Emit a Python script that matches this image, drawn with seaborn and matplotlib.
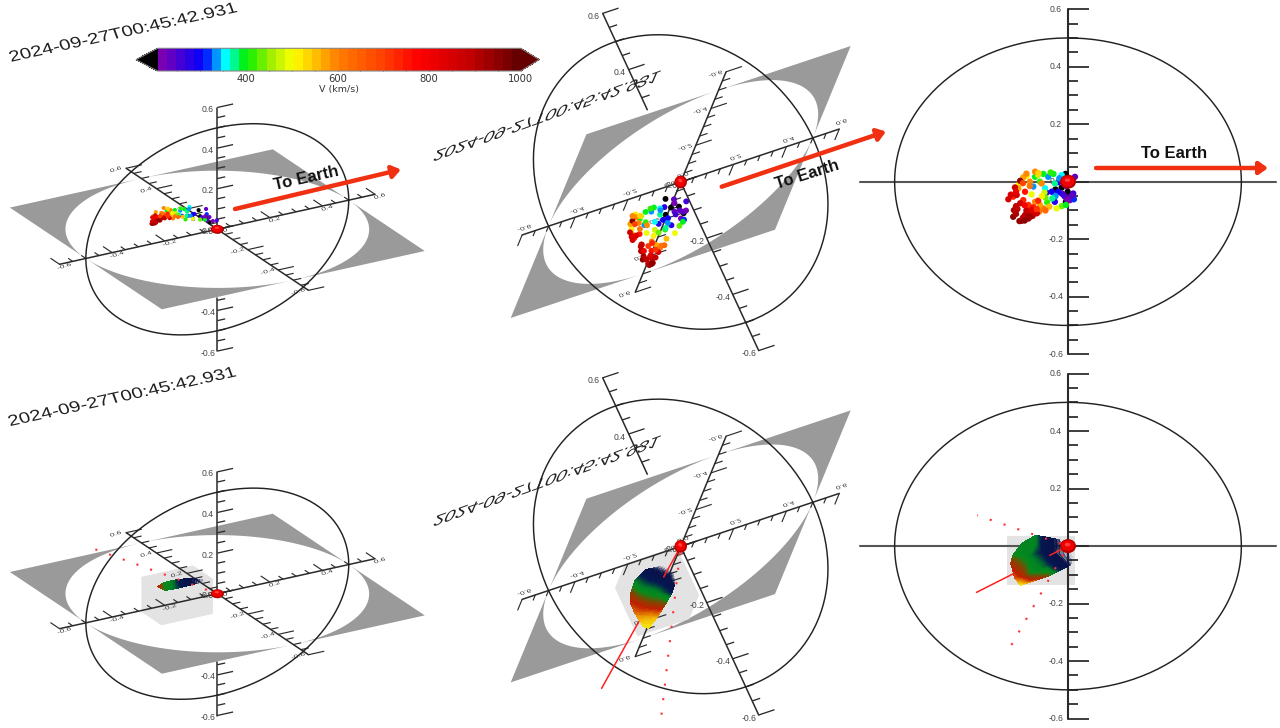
import numpy as np
import matplotlib.pyplot as plt
import matplotlib.patheffects as pe
import seaborn as sns
from matplotlib.cm import ScalarMappable
from matplotlib.colors import LinearSegmentedColormap, Normalize
from matplotlib.patches import Ellipse
from matplotlib.ticker import FixedLocator
from matplotlib.transforms import Affine2D

# Speed colour scale
speed_stops = [207, 300, 350, 395, 450, 500, 600, 700, 780, 900, 1000]
speed_colors = ['#7a00b4', '#0000ff', '#00ffff', '#00f000', '#a0f000', '#ffff00',
                '#ff8000', '#ff4000', '#ff0000', '#c00000', '#660000']
cbar_ticks = [400, 600, 800, 1000]

# Point cloud read from the side and underside views
cloud_x = [-.007, -.036, -.001, -.006, -.018, -.018, -.009, .006, .015, .020, -.013, -.002, -.028,
           -.062, -.047, -.028, .017, -.038, -.100, -.057, -.018, -.036, -.066,
           -.042, -.071, -.095, -.060, -.018, -.006, -.038, -.081,
           -.105, -.119, -.143, -.033, -.068, -.086,
           -.095, -.129, -.143, -.095, -.071, -.081, -.054, -.083, -.110, -.076,
           -.158, -.124, -.129, -.114, -.100, -.086,
           -.172, -.148, -.138, -.105, -.114, -.090,
           -.156, -.146, -.158, -.140, -.134, -.114, -.102, -.138, -.153, -.124, -.110, -.120, -.130,
           -.085, -.120, -.050, -.025, -.065, -.045, -.005, .010, -.150, -.165,
           -.125, -.105, -.090, -.065, -.150, -.125, -.150, -.075, -.110, -.130]
cloud_y = [.13, .12, .08, .06, .10, .09, .07, .06, .05, .13, .10, .10, .12,
           .14, .13, .13, .12, .11, .16, .16, .17, .13, .15,
           .16, .17, .18, .12, .10, .09, .15, .18,
           .16, .15, .17, .12, .17, .18,
           .20, .19, .18, .17, .17, .18, .15, .16, .17, .19,
           .15, .17, .18, .17, .19, .19,
           .14, .15, .16, .20, .18, .17,
           .15, .16, .16, .17, .18, .19, .18, .15, .17, .17, .20, .21, .19,
           .19, .17, .17, .16, .16, .14, .09, .09, .17, .15,
           .19, .20, .18, .16, .16, .18, .15, .18, .18, .16]
cloud_z = [.027, -.027, -.035, -.070, -.020, -.041, -.052, -.064, -.041, .017, -.046, -.064, -.002,
           -.038, -.035, -.035, -.061, -.070, -.017, .017, .023, -.050, -.023,
           .027, .027, .017, -.072, -.085, -.081, -.006, .000,
           -.044, .020, -.012, -.093, -.038, .023,
           .035, .015, -.023, -.070, -.093, -.081, -.087, -.104, .000, -.006,
           -.052, -.035, -.064, -.081, -.089, -.066,
           -.061, -.046, -.075, -.110, -.108, -.110,
           -.099, -.095, -.122, -.137, -.136, -.128, -.119, .003, -.020, -.116, -.122, -.100, -.125,
           .030, .028, .032, .012, -.055, -.058, -.015, -.050, -.035, -.045,
           -.082, -.098, -.095, -.100, -.112, -.135, -.085, -.050, -.015, -.005]
cloud_speed = [190, 190, 190, 190, 190, 230, 240, 225, 250, 235, 260, 215, 270,
               280, 290, 300, 310, 285, 345, 345, 350, 340, 355,
               395, 405, 400, 410, 430, 390, 380, 425,
               490, 510, 520, 500, 480, 470,
               590, 580, 570, 600, 610, 580, 560, 620, 590, 600,
               730, 750, 740, 720, 750, 730,
               860, 850, 870, 840, 880, 850,
               920, 900, 950, 960, 940, 920, 900, 950, 880, 910, 930, 890, 900,
               540, 600, 420, 345, 440, 370, 210, 240, 820, 860,
               790, 830, 720, 640, 920, 950, 890, 520, 610, 700]

# Cone surface, screen offsets from Earth in each lower view, with colour level
cone_left_dx = [-59.7, -53.7, -45.3, -33.7, -22, -13, -18.7, -30.3, -42, -52, -56.3, -47, -37, -25.3]
cone_left_dy = [-7.3, -10.7, -13.3, -14.7, -15, -13.3, -10.7, -8.3, -5, -3.3, -5.3, -8.3, -11, -12.3]
cone_left_level = [.72, .5, .42, .2, .1, 0, .05, .2, .38, .5, .62, .45, .25, .12]

cone_mid_dx = [-40.7, -34, -19, -7.3, -27.3, -12.3, -5.7, -9, -13.3, -19, -25.7, -32.3, -37.3, -45.7,
               -50.7, -50, -45.7, -40.7, -24, -12.3, -47.3, -35.7, -20.7, -40.7, -27.3]
cone_mid_dy = [28.7, 23, 19.7, 25.3, 28.7, 32, 37, 47, 54.3, 63.7, 73.7, 82, 80.3, 67,
               55.3, 47, 33.7, 42, 47, 52, 55.3, 61, 63.7, 72, 72]
cone_mid_level = [.3, .15, 0, 0, .2, .15, .03, .3, .5, .75, .95, 1, 1, .82,
                  .72, .62, .4, .45, .45, .45, .7, .7, .72, .9, .92]

cone_right_dx = [-32.3, -22.3, -9, 4.3, 2.7, -9, -20.7, -35.7, -47.3, -53.3, -57.3, -54.7, -45.7,
                 -40.7, -34, -27, -20.7, -12.3, -22.3, -37.3, -45.7]
cone_right_dy = [-10.7, -9, -6.3, 10.3, 18.7, 22, 30.3, 35.3, 39.3, 32, 17, 8.7, -3,
                 10.3, -3, 5.3, 7, 7, 20.3, 27, 30.3]
cone_right_level = [.42, .2, .08, 0, .05, .25, .6, .72, 1, .78, .66, .5, .45,
                    .45, .45, .28, .18, .1, .38, .5, .68]
cone_stops = [0, .12, .3, .42, .5, .62, .72, .85, 1]
cone_colors = [(.04, .07, .30, 0), (.03, .07, .28, 1), (.02, .09, .32, 1), (0, .50, .15, 1), (.02, .55, .10, 1),
               (.55, .25, 0, 1), (.75, .12, 0, 1), (.90, .50, 0, 1), (.98, .90, .05, 1)]

# Cone bounding box and the three rays from Earth
box_x = [-.175, .02]
box_y = [.065, .195]
box_z = [-.137, .035]
ray_solid = [-.264, .40, -.161]
ray_dot_a = [-.262, .40, .107]
ray_dot_b = [-.175, .28, -.369]

major_ticks = [-.6, -.4, -.2, 0, .2, .4, .6]
tick_steps = np.arange(-12, 13) * .05
stamp = '2024-09-27T00:45:42.931'
earth_label = 'To Earth'
red = '#f03010'


class GlyphWarp(pe.AbstractPathEffect):
    # keeps the label as text but lays its glyphs into the tilted plane
    def __init__(self, a, b, c, d):
        super().__init__()
        self.m = np.array([[a, b, 0], [c, d, 0], [0, 0, 1.]])

    def draw_path(self, renderer, gc, tpath, affine, rgbFace=None):
        m = affine.get_matrix()
        e = tpath.get_extents()
        cx, cy = affine.transform([[(e.x0 + e.x1) / 2, (e.y0 + e.y1) / 2]])[0]
        s = np.hypot(m[0, 0], m[1, 0])
        t = (Affine2D().translate(-(e.x0 + e.x1) / 2, -(e.y0 + e.y1) / 2).scale(s)
             + Affine2D(self.m) + Affine2D().translate(cx, cy))
        renderer.draw_path(gc, tpath, t, rgbFace)


def project(view, x, y, z):
    x, y, z = np.asarray(x, float), np.asarray(y, float), np.asarray(z, float)
    px = view['o'][0] + view['x'][0] * x + view['y'][0] * y + view['z'][0] * z
    py = view['o'][1] + view['x'][1] * x + view['y'][1] * y + view['z'][1] * z
    return px, py


def label(txt):
    return '0.0' if abs(txt) < 1e-9 else f'{txt:.1f}'


def draw_plane(view):
    t = np.linspace(0, np.pi / 2, 60)
    for sx, sy in [(1, 1), (-1, 1), (-1, -1), (1, -1)]:
        xs = np.r_[.5 * sx, .5 * sx * np.cos(t)]
        ys = np.r_[.5 * sy, .5 * sy * np.sin(t)]
        px, py = project(view, xs, ys, 0 * xs)
        ax.fill(px, py, color='#9a9a9a', lw=0, zorder=1)


def draw_axes(view):
    lw, col = view['lw'], '#2a2a2a'
    a, b = view['hide_z']
    z_parts = [(-.6, a), (b, .6)]
    for lo, hi in z_parts:
        px, py = project(view, [0, 0], [0, 0], [lo, hi])
        sns.lineplot(x=px, y=py, sort=False, estimator=None, color=col, linewidth=lw, ax=ax, zorder=3)
    px, py = project(view, [-.6, .6], [0, 0], [0, 0])
    sns.lineplot(x=px, y=py, sort=False, estimator=None, color=view.get('xcol', col), linewidth=lw, ax=ax, zorder=3)
    if view['flat']:
        px, py = project(view, [0, 0], [-.6, .6], [0, 0])
        sns.lineplot(x=px, y=py, sort=False, estimator=None, color=col, linewidth=lw, ax=ax, zorder=3)
    for v in tick_steps:
        major = any(abs(v - m) < 1e-9 for m in major_ticks)
        n = .06 if major else .03
        if not (a < v < b):
            px, py = project(view, [0, n], [0, 0], [v, v])
            ax.plot(px, py, color=col, lw=lw * .85, zorder=3, solid_capstyle='butt')
        if view['flat']:
            px, py = project(view, [v, v], [0, n], [0, 0])
            ax.plot(px, py, color=col, lw=lw * .75, zorder=3, solid_capstyle='butt')
            px, py = project(view, [0, n], [v, v], [0, 0])
            ax.plot(px, py, color=col, lw=lw * .75, zorder=3, solid_capstyle='butt')
    for v in major_ticks:
        if not (a < v < b):
            px, py = project(view, -.035, 0, v)
            ax.text(px, py, label(v), fontsize=6.2, color='#444444', ha='center', va='center', zorder=3)
        if view['flat']:
            warp = [GlyphWarp(*view['warp'])]
            px, py = project(view, v, -.03, 0)
            ax.text(px, py, label(v), fontsize=6, color='#333333', ha='center', va='center', zorder=3,
                    path_effects=warp)
            px, py = project(view, -.04, v, 0)
            ax.text(px, py, label(v), fontsize=6, color='#333333', ha='center', va='center', zorder=3,
                    path_effects=warp)


def draw_circle(view):
    t = np.linspace(0, 2 * np.pi, 240)
    px, py = project(view, .5 * np.cos(t), 0 * t, .5 * np.sin(t))
    sns.lineplot(x=px, y=py, sort=False, estimator=None, color='#222222', linewidth=1.05, ax=ax, zorder=3)


def draw_earth(view):
    w, h, ang = view['earth']
    ox, oy = view['o']
    ax.add_patch(Ellipse((ox, oy), w, h, angle=ang, color='#b80000', lw=0, zorder=6))
    ax.add_patch(Ellipse((ox - .3, oy - .5), w * .8, h * .75, angle=ang, color='#f00000', lw=0, zorder=6))
    ax.add_patch(Ellipse((ox - .5, oy - 1.5), w * .35, h * .25, angle=ang, color='#ff4040', lw=0, zorder=6))


def draw_cloud(view):
    px, py = project(view, np.asarray(cloud_x) * view['cloud_xk'], cloud_y, np.asarray(cloud_z) * view['cloud_zk'])
    dx, dy = view['cloud_shift']
    sns.scatterplot(x=px + dx, y=py + dy, hue=cloud_speed, hue_norm=speed_norm, palette=speed_cmap,
                    s=view['dot'], linewidth=0, legend=False, ax=ax, zorder=5)


def draw_box(view):
    for i, fixed in enumerate([box_x, box_y, box_z]):
        others = [c for j, c in enumerate([box_x, box_y, box_z]) if j != i]
        for f in fixed:
            pts = [(others[0][0], others[1][0]), (others[0][1], others[1][0]),
                   (others[0][1], others[1][1]), (others[0][0], others[1][1])]
            coords = [[], [], []]
            for p, q in pts:
                c = [p, q]
                c.insert(i, f)
                for k in range(3):
                    coords[k].append(c[k])
            px, py = project(view, *coords)
            ax.fill(px, py, color='#e3e3e3', lw=0, zorder=2)


def draw_cone(view, dx, dy, level):
    ox, oy = view['o']
    ax.tricontourf(np.asarray(dx) + ox, np.asarray(dy) + oy, level, levels=np.linspace(0, 1, 41),
                   cmap=cone_cmap, zorder=4, antialiased=False)


def draw_ray(view, ray, spans, dotted):
    for lo, hi in spans:
        px, py = project(view, [ray[0] * lo, ray[0] * hi], [ray[1] * lo, ray[1] * hi], [ray[2] * lo, ray[2] * hi])
        if dotted:
            sns.lineplot(x=px, y=py, sort=False, estimator=None, color='#ff3030', linewidth=1.5,
                         linestyle=(0, (1, 6)), ax=ax, zorder=5)
        else:
            sns.lineplot(x=px, y=py, sort=False, estimator=None, color='#ff2020', linewidth=1.1, ax=ax, zorder=5)


sns.set_theme(style='white')
plt.rcParams['font.family'] = 'Liberation Sans'

speed_norm = Normalize(207, 1000)
speed_cmap = LinearSegmentedColormap.from_list(
    'speed', [((s - 207) / 793, c) for s, c in zip(speed_stops, speed_colors)], N=40)
speed_cmap.set_under('black')
speed_cmap.set_over('#660000')
cone_cmap = LinearSegmentedColormap.from_list('cone', list(zip(cone_stops, cone_colors)), N=256)

fig = plt.figure(figsize=(12.8, 7.28), dpi=100)
ax = fig.add_axes([0, 0, 1, 1])
ax.set_xlim(0, 1280)
ax.set_ylim(728, 0)
ax.autoscale(False)
ax.axis('off')

left = dict(o=(217.3, 229.3), x=(262.9, -58.3), y=(-152, -101.7), z=(0, -203), lw=1.1, flat=True,
            hide_z=(-.337, .0), earth=(13, 9, 0), dot=9, cloud_xk=1.05, cloud_zk=.25, cloud_shift=(3, -5),
            warp=(.95, -.25, .3, .55))
mid = dict(o=(680.7, 182), x=(264.3, -88.3), y=(-75.7, 183.7), z=(-130, -281), lw=1.1, flat=True,
           hide_z=(.0, .257), earth=(12.5, 13, 30), dot=18, cloud_xk=1, cloud_zk=1, cloud_shift=(0, 0),
           warp=(.95, .3, .3, -.55))
right = dict(o=(1068, 181.7), x=(346.7, 0), y=(0, 0), z=(0, -287.5), lw=1.5, flat=False,
             hide_z=(0, 0), earth=(16, 14, 0), dot=21, cloud_xk=1, cloud_zk=1, cloud_shift=(0, 0),
             warp=(1, 0, 0, 1), xcol='#555555')

for base in (left, mid, right):
    if base['flat']:
        draw_plane(base)
    draw_axes(base)
    draw_circle(base)
    draw_cloud(base)
    draw_earth(base)

bottom = []
for base in (left, mid, right):
    v = dict(base)
    v['o'] = (base['o'][0], base['o'][1] + 364.4)
    bottom.append(v)
    if v['flat']:
        draw_plane(v)
    draw_box(v)
    draw_axes(v)
    draw_circle(v)
    draw_earth(v)

draw_cone(bottom[0], cone_left_dx, cone_left_dy, cone_left_level)
draw_cone(bottom[1], cone_mid_dx, cone_mid_dy, cone_mid_level)
draw_cone(bottom[2], cone_right_dx, cone_right_dy, cone_right_level)
draw_ray(bottom[0], ray_dot_a, [(.08, 1)], True)
draw_ray(bottom[1], ray_dot_b, [(.04, 1)], True)
draw_ray(bottom[1], ray_solid, [(.03, .215), (.53, 1)], False)
draw_ray(bottom[2], ray_dot_a, [(.08, 1)], True)
draw_ray(bottom[2], ray_dot_b, [(.08, 1)], True)
draw_ray(bottom[2], ray_solid, [(.03, .2), (.6, 1)], False)

# Overlaid arrows and captions
arrow_tail = [(235, 209), (721.7, 186.7), (1096, 168)]
arrow_head = [(401, 169.5), (886, 131.5), (1268, 168)]
caption_at = [(306.7, 178), (806.7, 175), (1174, 153.3)]
caption_rot = [12.7, 17.5, 0]
for tail, head, at, rot in zip(arrow_tail, arrow_head, caption_at, caption_rot):
    ax.annotate('', xy=head, xytext=tail, zorder=7,
                arrowprops=dict(arrowstyle='-|>,head_length=.42,head_width=.3', color=red, lw=3.2,
                                shrinkA=0, shrinkB=0))
    ax.text(at[0], at[1], earth_label, fontsize=12, fontweight='bold', color='#111111', rotation=rot,
            rotation_mode='anchor', ha='center', va='center', zorder=8)

# Skewed timestamps, real text laid into the plane
stamp_at = [(122.7, 33), (546.7, 117.3), (121.7, 397.3), (546.7, 482.3)]
stamp_warp = [(1.18, -.32, .26, .88), (1.17, -.42, .42, -.98)]
for i, at in enumerate(stamp_at):
    a, b, c, d = stamp_warp[i % 2]
    ax.text(at[0], at[1], stamp, fontsize=12, color='#222222', ha='center', va='center', zorder=8,
            path_effects=[GlyphWarp(a, b, c, d)])

# Colour bar, the extensions sit inside this box
cax = fig.add_axes([136 / 1280, 1 - 71 / 728, 403.3 / 1280, 22.7 / 728])
cb = fig.colorbar(ScalarMappable(norm=speed_norm, cmap=speed_cmap), cax=cax, orientation='horizontal',
                  extend='both', extendfrac=(.0595, .051), ticks=cbar_ticks)
cb.outline.set_edgecolor('#888888')
cb.outline.set_linewidth(.8)
cax.xaxis.set_minor_locator(FixedLocator(np.arange(250, 1000, 50)))
cax.tick_params(axis='x', which='major', direction='in', length=4.5, width=.6, color='#222222',
                labelsize=7.2, pad=2.5, labelcolor='#333333', bottom=True)
cax.tick_params(axis='x', which='minor', direction='in', length=2.2, width=.6, color='#222222', bottom=True)
for t in cax.get_xticklabels():
    t.set_fontfamily('DejaVu Sans')
cb.set_label('V (km/s)', fontsize=6.8, labelpad=0.5, color='#333333', fontfamily='DejaVu Sans')

fig.savefig('out.png', dpi=100, facecolor='white')
